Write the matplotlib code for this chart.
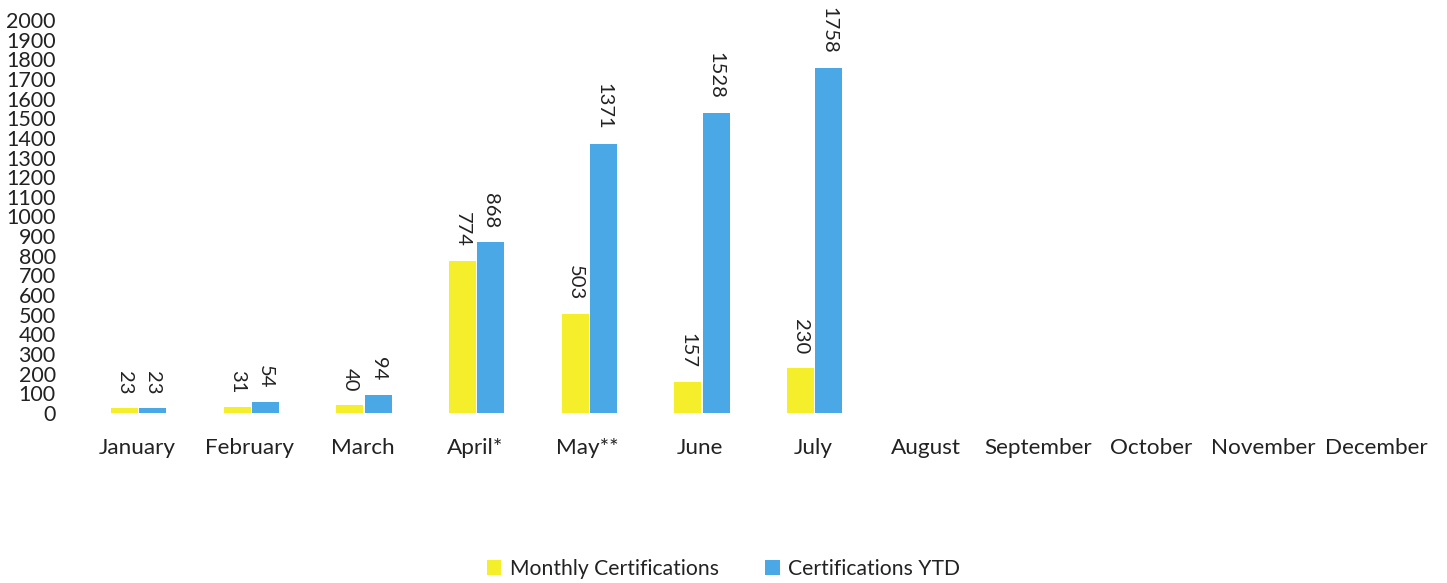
import matplotlib
matplotlib.use("Agg")
import matplotlib.pyplot as plt
import numpy as np

months = ["January", "February", "March", "April*", "May**", "June", "July",
          "August", "September", "October", "November", "December"]
monthly = [23, 31, 40, 774, 503, 157, 230]
ytd = [23, 54, 94, 868, 1371, 1528, 1758]
yticks = list(range(0, 2001, 100))

plt.rcParams['font.family'] = ['Lato', 'DejaVu Sans']

fig = plt.figure(figsize=(14.47, 5.83), dpi=100)
ax = fig.add_axes([0.0558, 0.2916, 0.9342, 0.6741])

x = np.arange(len(months))
w = 0.24
xm = x[:len(monthly)]
yellow = "#F5EE2A"
blue = "#4AA8E6"
b1 = ax.bar(xm - w / 2 + 0.01, monthly, w, color=yellow, label="Monthly Certifications")
b2 = ax.bar(xm + w / 2 + 0.02, ytd, w, color=blue, label="Certifications YTD")

for bars, vals in ((b1, monthly), (b2, ytd)):
    for r, v in zip(bars, vals):
        ax.annotate(str(v), (r.get_x() + r.get_width() / 2, r.get_height()),
                    xytext=(0, 10), textcoords="offset points",
                    rotation=270, ha="center", va="bottom", fontsize=14.5, color="#222222")

ax.set_xlim(-0.5, len(months) - 0.5)
ax.set_ylim(0, 2000)
ax.set_yticks(yticks)
ax.set_yticklabels([str(t) for t in yticks], fontsize=15.5, color="#222222")
ax.set_xticks(x)
ax.set_xticklabels(months, fontsize=16.2, color="#222222")
ax.tick_params(axis="both", length=0)
ax.tick_params(axis="y", pad=18)
ax.tick_params(axis="x", pad=18)
for s in ax.spines.values():
    s.set_visible(False)

fig.legend(handles=[b1, b2], loc="center", bbox_to_anchor=(0.5, 0.024),
           ncol=2, frameon=False, fontsize=15.2, handlelength=0.7, handleheight=0.7,
           columnspacing=2.2, handletextpad=0.4, labelcolor="#222222")

fig.savefig("out.png", dpi=100)
